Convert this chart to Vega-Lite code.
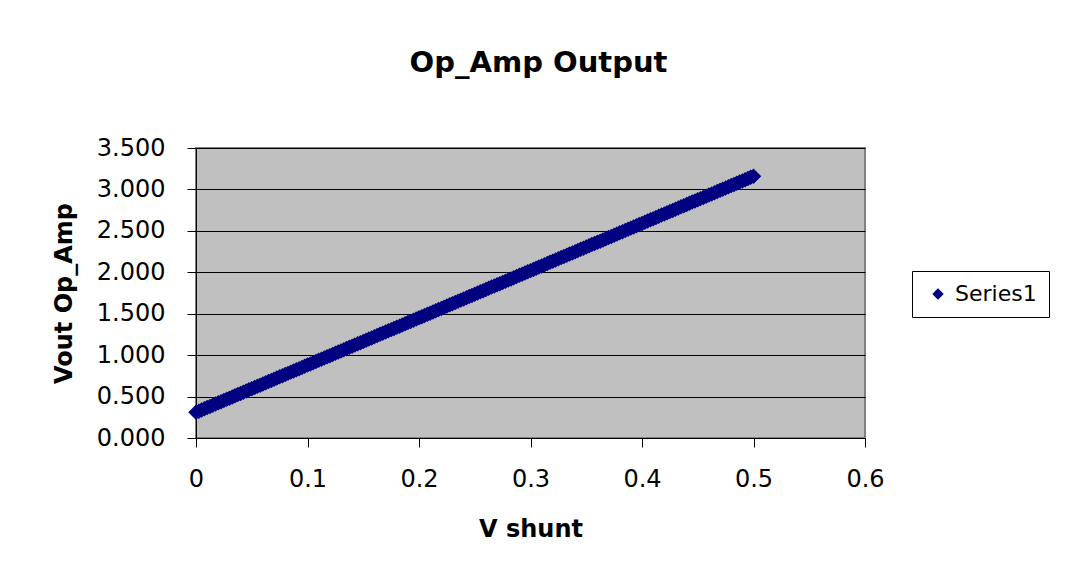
{
"$schema": "https://vega.github.io/schema/vega-lite/v6.json",
"width": 669, "height": 290,
"autosize": {"type": "none"},
"padding": {"left": 196, "top": 148, "right": 200, "bottom": 145},
"background": "white",
"title": {"text": "Op_Amp Output", "font": "DejaVu Sans", "fontSize": 29, "fontWeight": "bold", "color": "black", "offset": 58, "anchor": "middle", "dx": 8},
"data": {"values": [
{"x":0,"y":0.310},{"x":0.0025,"y":0.324},{"x":0.005,"y":0.339},{"x":0.0075,"y":0.353},
{"x":0.01,"y":0.367},{"x":0.0125,"y":0.381},{"x":0.015,"y":0.396},{"x":0.0175,"y":0.410},
{"x":0.02,"y":0.424},{"x":0.0225,"y":0.438},{"x":0.025,"y":0.453},{"x":0.0275,"y":0.467},
{"x":0.03,"y":0.481},{"x":0.0325,"y":0.495},{"x":0.035,"y":0.510},{"x":0.0375,"y":0.524},
{"x":0.04,"y":0.538},{"x":0.0425,"y":0.552},{"x":0.045,"y":0.567},{"x":0.0475,"y":0.581},
{"x":0.05,"y":0.595},{"x":0.0525,"y":0.609},{"x":0.055,"y":0.624},{"x":0.0575,"y":0.638},
{"x":0.06,"y":0.652},{"x":0.0625,"y":0.666},{"x":0.065,"y":0.681},{"x":0.0675,"y":0.695},
{"x":0.07,"y":0.709},{"x":0.0725,"y":0.723},{"x":0.075,"y":0.738},{"x":0.0775,"y":0.752},
{"x":0.08,"y":0.766},{"x":0.0825,"y":0.780},{"x":0.085,"y":0.795},{"x":0.0875,"y":0.809},
{"x":0.09,"y":0.823},{"x":0.0925,"y":0.837},{"x":0.095,"y":0.852},{"x":0.0975,"y":0.866},
{"x":0.1,"y":0.880},{"x":0.1025,"y":0.894},{"x":0.105,"y":0.909},{"x":0.1075,"y":0.923},
{"x":0.11,"y":0.937},{"x":0.1125,"y":0.951},{"x":0.115,"y":0.966},{"x":0.1175,"y":0.980},
{"x":0.12,"y":0.994},{"x":0.1225,"y":1.008},{"x":0.125,"y":1.023},{"x":0.1275,"y":1.037},
{"x":0.13,"y":1.051},{"x":0.1325,"y":1.065},{"x":0.135,"y":1.080},{"x":0.1375,"y":1.094},
{"x":0.14,"y":1.108},{"x":0.1425,"y":1.122},{"x":0.145,"y":1.137},{"x":0.1475,"y":1.151},
{"x":0.15,"y":1.165},{"x":0.1525,"y":1.179},{"x":0.155,"y":1.194},{"x":0.1575,"y":1.208},
{"x":0.16,"y":1.222},{"x":0.1625,"y":1.236},{"x":0.165,"y":1.251},{"x":0.1675,"y":1.265},
{"x":0.17,"y":1.279},{"x":0.1725,"y":1.293},{"x":0.175,"y":1.308},{"x":0.1775,"y":1.322},
{"x":0.18,"y":1.336},{"x":0.1825,"y":1.350},{"x":0.185,"y":1.365},{"x":0.1875,"y":1.379},
{"x":0.19,"y":1.393},{"x":0.1925,"y":1.407},{"x":0.195,"y":1.422},{"x":0.1975,"y":1.436},
{"x":0.2,"y":1.450},{"x":0.2025,"y":1.464},{"x":0.205,"y":1.479},{"x":0.2075,"y":1.493},
{"x":0.21,"y":1.507},{"x":0.2125,"y":1.521},{"x":0.215,"y":1.536},{"x":0.2175,"y":1.550},
{"x":0.22,"y":1.564},{"x":0.2225,"y":1.578},{"x":0.225,"y":1.593},{"x":0.2275,"y":1.607},
{"x":0.23,"y":1.621},{"x":0.2325,"y":1.635},{"x":0.235,"y":1.650},{"x":0.2375,"y":1.664},
{"x":0.24,"y":1.678},{"x":0.2425,"y":1.692},{"x":0.245,"y":1.707},{"x":0.2475,"y":1.721},
{"x":0.25,"y":1.735},{"x":0.2525,"y":1.749},{"x":0.255,"y":1.764},{"x":0.2575,"y":1.778},
{"x":0.26,"y":1.792},{"x":0.2625,"y":1.806},{"x":0.265,"y":1.821},{"x":0.2675,"y":1.835},
{"x":0.27,"y":1.849},{"x":0.2725,"y":1.863},{"x":0.275,"y":1.878},{"x":0.2775,"y":1.892},
{"x":0.28,"y":1.906},{"x":0.2825,"y":1.920},{"x":0.285,"y":1.935},{"x":0.2875,"y":1.949},
{"x":0.29,"y":1.963},{"x":0.2925,"y":1.977},{"x":0.295,"y":1.992},{"x":0.2975,"y":2.006},
{"x":0.3,"y":2.020},{"x":0.3025,"y":2.034},{"x":0.305,"y":2.049},{"x":0.3075,"y":2.063},
{"x":0.31,"y":2.077},{"x":0.3125,"y":2.091},{"x":0.315,"y":2.106},{"x":0.3175,"y":2.120},
{"x":0.32,"y":2.134},{"x":0.3225,"y":2.148},{"x":0.325,"y":2.163},{"x":0.3275,"y":2.177},
{"x":0.33,"y":2.191},{"x":0.3325,"y":2.205},{"x":0.335,"y":2.220},{"x":0.3375,"y":2.234},
{"x":0.34,"y":2.248},{"x":0.3425,"y":2.262},{"x":0.345,"y":2.277},{"x":0.3475,"y":2.291},
{"x":0.35,"y":2.305},{"x":0.3525,"y":2.319},{"x":0.355,"y":2.334},{"x":0.3575,"y":2.348},
{"x":0.36,"y":2.362},{"x":0.3625,"y":2.376},{"x":0.365,"y":2.391},{"x":0.3675,"y":2.405},
{"x":0.37,"y":2.419},{"x":0.3725,"y":2.433},{"x":0.375,"y":2.448},{"x":0.3775,"y":2.462},
{"x":0.38,"y":2.476},{"x":0.3825,"y":2.490},{"x":0.385,"y":2.505},{"x":0.3875,"y":2.519},
{"x":0.39,"y":2.533},{"x":0.3925,"y":2.547},{"x":0.395,"y":2.562},{"x":0.3975,"y":2.576},
{"x":0.4,"y":2.590},{"x":0.4025,"y":2.604},{"x":0.405,"y":2.619},{"x":0.4075,"y":2.633},
{"x":0.41,"y":2.647},{"x":0.4125,"y":2.661},{"x":0.415,"y":2.676},{"x":0.4175,"y":2.690},
{"x":0.42,"y":2.704},{"x":0.4225,"y":2.718},{"x":0.425,"y":2.733},{"x":0.4275,"y":2.747},
{"x":0.43,"y":2.761},{"x":0.4325,"y":2.775},{"x":0.435,"y":2.790},{"x":0.4375,"y":2.804},
{"x":0.44,"y":2.818},{"x":0.4425,"y":2.832},{"x":0.445,"y":2.847},{"x":0.4475,"y":2.861},
{"x":0.45,"y":2.875},{"x":0.4525,"y":2.889},{"x":0.455,"y":2.904},{"x":0.4575,"y":2.918},
{"x":0.46,"y":2.932},{"x":0.4625,"y":2.946},{"x":0.465,"y":2.961},{"x":0.4675,"y":2.975},
{"x":0.47,"y":2.989},{"x":0.4725,"y":3.003},{"x":0.475,"y":3.018},{"x":0.4775,"y":3.032},
{"x":0.48,"y":3.046},{"x":0.4825,"y":3.060},{"x":0.485,"y":3.075},{"x":0.4875,"y":3.089},
{"x":0.49,"y":3.103},{"x":0.4925,"y":3.117},{"x":0.495,"y":3.132},{"x":0.4975,"y":3.146},
{"x":0.5,"y":3.160}
]},
"mark": {"type": "point", "shape": "diamond", "filled": true, "size": 240, "opacity": 1},
"encoding": {
  "x": {"field": "x", "type": "quantitative", "title": "V shunt",
        "scale": {"domain": [0, 0.6], "nice": false, "zero": false},
        "axis": {"values": [0, 0.1, 0.2, 0.3, 0.4, 0.5, 0.6], "format": "~g", "grid": false, "labelPadding": 20, "titlePadding": 26}},
  "y": {"field": "y", "type": "quantitative", "title": "Vout Op_Amp",
        "scale": {"domain": [0, 3.5], "nice": false},
        "axis": {"values": [0, 0.5, 1, 1.5, 2, 2.5, 3, 3.5], "format": ".3f", "grid": true, "labelPadding": 22, "titlePadding": 20}},
  "color": {"datum": "Series1", "type": "nominal", "scale": {"range": ["#000080"]},
            "legend": {"title": null, "orient": "none", "legendX": 716, "legendY": 123, "symbolType": "diamond", "symbolSize": 130, "symbolOffset": 3, "labelOffset": 6, "padding": 12, "fillColor": "white", "strokeColor": "black", "labelFont": "DejaVu Sans", "labelFontSize": 22, "labelColor": "black"}}
},
"config": {
  "view": {"fill": "#C0C0C0", "stroke": "#808080", "strokeWidth": 2},
  "axis": {"domainColor": "black", "domainWidth": 1, "tickColor": "black", "tickSize": 9, "labelFont": "DejaVu Sans", "labelFontSize": 24, "labelColor": "black", "labelFlush": false, "labelOverlap": false, "titleFont": "DejaVu Sans", "titleFontSize": 24, "titleFontWeight": "bold", "titleColor": "black", "gridColor": "black", "gridWidth": 1, "gridOpacity": 1}
}
}
